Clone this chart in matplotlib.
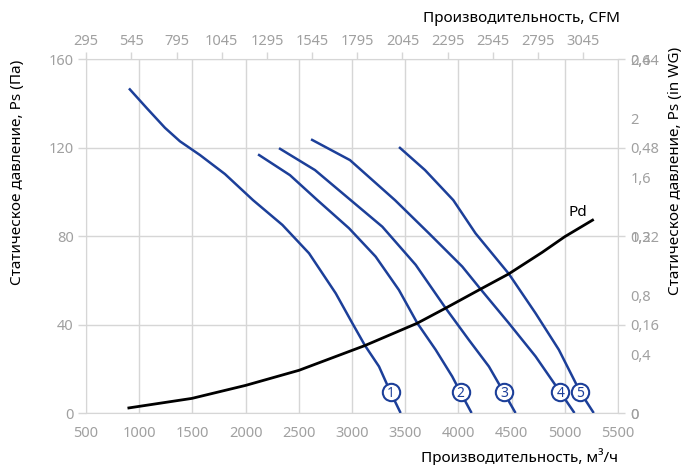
import numpy as np
import matplotlib
matplotlib.use('Agg')
import matplotlib.pyplot as plt

plt.rcParams['font.family'] = ['Noto Sans', 'DejaVu Sans']

# fan curves, flow in m3/h vs static pressure in Pa
q1 = [904, 1073, 1242, 1383, 1571, 1806, 2070, 2346, 2596, 2847, 3003, 3122, 3254, 3363, 3457]
p1 = [146.7, 137.7, 128.9, 122.8, 116.6, 108, 96.2, 85, 72.2, 54.1, 40.6, 30.5, 21, 9.3, 0]
q2 = [2117, 2417, 2675, 2972, 3222, 3441, 3614, 3786, 3942, 4020, 4124]
p2 = [116.9, 107.5, 96.2, 83.5, 70.7, 55.6, 40.6, 28.6, 16.5, 9.3, 0]
q3 = [2314, 2652, 2988, 3285, 3598, 3880, 4099, 4287, 4427, 4537]
p3 = [119.7, 109.8, 96.2, 84.2, 67, 47.4, 33, 21, 9.3, 0]
q4 = [2615, 2981, 3404, 3723, 4036, 4208, 4474, 4725, 4959, 5091]
p4 = [123.7, 114.3, 96.2, 81.2, 66.2, 56, 40.6, 25.6, 9.3, 0]
q5 = [3442, 3686, 3952, 4161, 4474, 4725, 4944, 5147, 5272]
p5 = [120.2, 109.8, 96.2, 81.2, 62.9, 45.1, 28.6, 9.3, 0]
# dynamic pressure
qd = [890, 1495, 2002, 2502, 3122, 3614, 3880, 4208, 4474, 4787, 5000, 5272]
pd = [2.2, 6.6, 12.5, 19.3, 30.5, 40.6, 47.4, 56, 62.9, 72.6, 79.7, 87.5]

# circled curve numbers
lab_names = ['1', '2', '3', '4', '5']
lab_q = [3363, 4020, 4427, 4959, 5147]
lab_p = [9.3, 9.3, 9.3, 9.3, 9.3]

x_ticks = [500, 1000, 1500, 2000, 2500, 3000, 3500, 4000, 4500, 5000, 5500]
y_ticks = [0, 40, 80, 120, 160]
cfm_ticks = [295, 545, 795, 1045, 1295, 1545, 1795, 2045, 2295, 2545, 2795, 3045]
inwg_ticks = [0, 0.16, 0.32, 0.48, 0.64]
alt_ticks = [0, 0.4, 0.8, 1.2, 1.6, 2, 2.4]

blue = '#1c3f99'
grey = '#a0a0a0'
gridc = '#d6d6d6'

W, H = 681, 465
fig = plt.figure(figsize=(W/100, H/100), dpi=100)
ax = fig.add_axes([86/W, 1-413/H, (618-86)/W, (413-59)/H])

for q, p in [(q1, p1), (q2, p2), (q3, p3), (q4, p4), (q5, p5)]:
    ax.plot(q, p, color=blue, lw=1.8, zorder=3, solid_capstyle='butt', solid_joinstyle='round')
ax.plot(qd, pd, color='black', lw=2.0, zorder=3, solid_capstyle='butt', solid_joinstyle='round')
ax.text(5124, 90.5, 'Pd', fontsize=11, fontweight='bold', ha='center', va='center')

for n, q, p in zip(lab_names, lab_q, lab_p):
    ax.plot(q, p, 'o', ms=12.5, mfc='white', mec=blue, mew=1.5, zorder=4)
    ax.text(q, p - 0.3, n, color=blue, fontsize=10, ha='center', va='center', zorder=5)

ax.set_xlim(500, 5500)
ax.set_ylim(0, 160)
ax.set_xticks(x_ticks)
ax.set_yticks(y_ticks)
ax.grid(True, color=gridc, lw=1)
ax.set_axisbelow(True)
for s in ax.spines.values():
    s.set_color(gridc)
ax.tick_params(colors=grey, labelsize=10.5, length=6, width=1)
ax.tick_params(axis='x', length=0, pad=9)
ax.tick_params(axis='y', color=gridc, pad=3)

# top axis in CFM
top = ax.secondary_xaxis('top', functions=(lambda q: q / 1.699, lambda c: c * 1.699))
top.set_xticks(cfm_ticks)
top.tick_params(colors=grey, labelsize=10.5, length=5, width=1, pad=2)
top.tick_params(axis='x', color=gridc)
top.spines['top'].set_visible(False)

fmt = lambda v, pos: ('%g' % v).replace('.', ',')

r1 = ax.secondary_yaxis('right', functions=(lambda p: p / 250.0, lambda w: w * 250.0))
r1.set_yticks(inwg_ticks)
r1.yaxis.set_major_formatter(fmt)
r1.tick_params(colors=grey, labelsize=10.5, length=5, width=1, pad=4)
r1.tick_params(axis='y', color=gridc)
r1.spines['right'].set_visible(False)

r2 = ax.secondary_yaxis('right', functions=(lambda p: p * 0.015, lambda w: w / 0.015))
r2.set_yticks(alt_ticks)
r2.yaxis.set_major_formatter(fmt)
r2.tick_params(colors=grey, labelsize=10.5, length=0, pad=9)
r2.spines['right'].set_visible(False)

# axis titles
fig.text(618/W, 1-457/H, 'Производительность, м³/ч', fontsize=11, ha='right', va='center')
fig.text(620/W, 1-18/H, 'Производительность, CFM', fontsize=11, ha='right', va='center')
fig.text(18/W, 1-60/H, 'Статическое давление, Ps (Па)', fontsize=11,
         rotation=90, ha='center', va='top')
fig.text(675/W, 1-47/H, 'Статическое давление, Ps (in WG)', fontsize=11,
         rotation=90, ha='center', va='top')

fig.savefig('out.png', dpi=100)
